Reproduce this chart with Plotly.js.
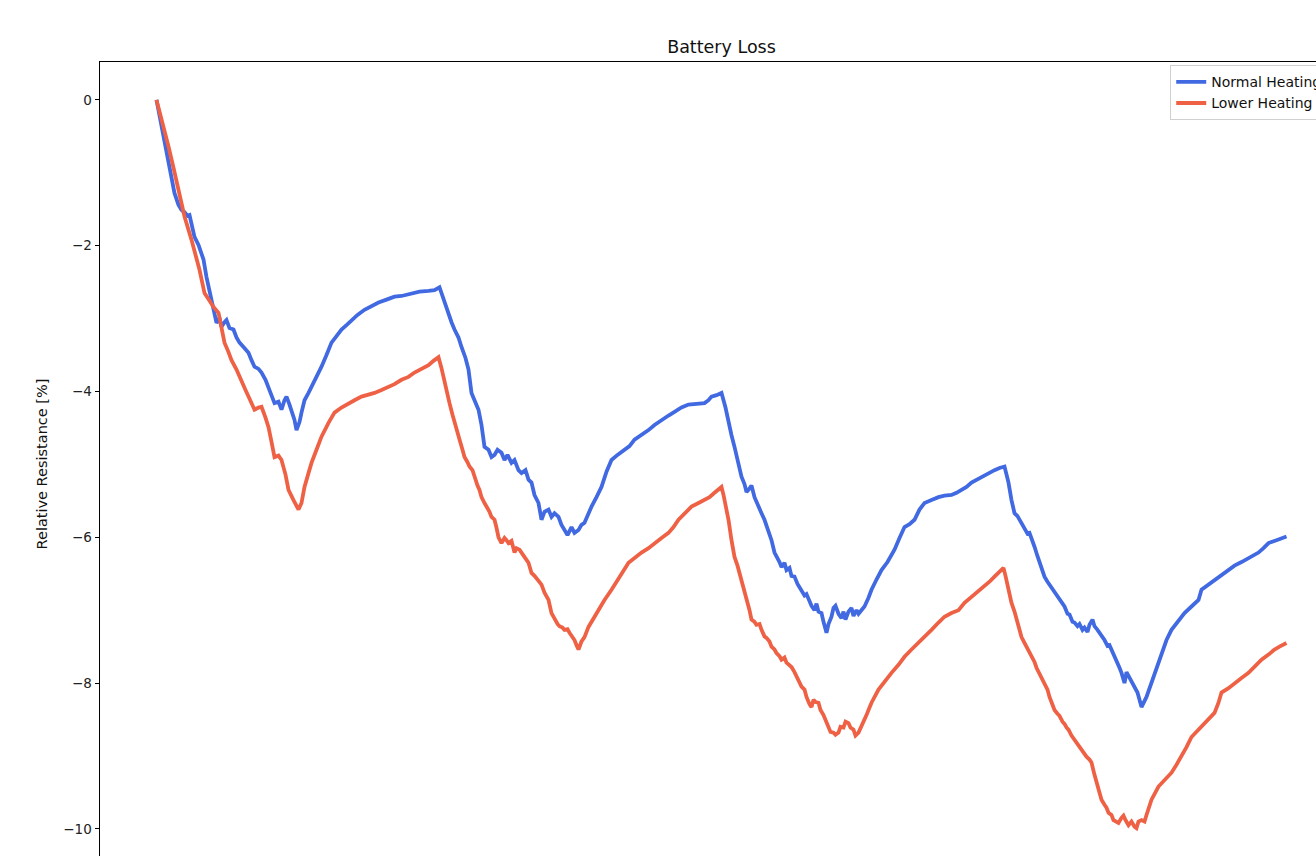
<!DOCTYPE html>
<html>
<head>
<meta charset="utf-8">
<script src="https://cdn.plot.ly/plotly-3.0.1.min.js"></script>
<style>
  html, body { margin: 0; padding: 0; overflow: hidden; background: #ffffff; }
  #chart { width: 1400px; height: 920px; }
</style>
</head>
<body>
<div id="chart"></div>
<script>
// Relative internal resistance over time for two heating strategies.
const normalT = [
  0, 3, 7, 11, 15, 18, 22, 25, 28, 31,
  33, 35, 38, 42, 47, 50, 53, 57, 60, 63,
  65, 68, 70, 73, 77, 80, 83, 87, 92, 95,
  98, 102, 105, 109, 112, 115, 118, 122, 125, 128,
  130, 133, 135, 138, 140, 143, 145, 148, 152, 155,
  160, 165, 170, 175, 180, 185, 190, 195, 201, 208,
  215, 222, 230, 238, 245, 255, 263, 272, 278, 283,
  287, 292, 295, 298, 302, 305, 309, 312, 315, 318,
  322, 325, 328, 332, 335, 338, 341, 345, 348, 351,
  355, 358, 362, 365, 369, 372, 375, 378, 382, 385,
  388, 392, 395, 398, 402, 405, 408, 411, 415, 418,
  422, 425, 428, 432, 435,
  440, 445, 450, 455, 461, 468, 473, 478, 485, 492,
  498, 505, 512, 518, 525, 532, 540, 548, 552, 555,
  560, 565, 569, 572, 575, 578,
  582, 585, 588, 590, 592, 595, 598, 602, 605, 608,
  610, 612, 615, 618, 621, 623, 625, 628, 630, 633,
  635, 638, 641, 645, 648, 650, 652, 655, 658, 660,
  662, 665, 667, 670, 672, 675, 677, 679, 682, 685,
  687, 689, 692, 695, 697, 700, 702, 705, 708,
  712, 715, 720, 725, 731, 738, 743, 748, 753, 758,
  763, 768, 775, 782, 788, 795, 800, 805, 810, 815,
  820, 825, 832, 838, 843, 848,
  850, 852, 855, 858, 861, 863, 866, 868, 871, 873,
  876, 878, 881, 883, 886, 888, 891, 893, 896, 898,
  901, 903, 906, 908, 911, 913, 916, 918, 921, 923,
  926, 928, 931, 933, 936, 938, 941, 943, 946, 948,
  951, 953, 956, 958, 961, 963, 965, 968, 970, 972,
  975, 977, 979, 981, 983, 985,
  990, 995, 1000, 1005, 1010, 1015, 1021, 1028, 1035, 1042,
  1045, 1052, 1058, 1065, 1072, 1078, 1085, 1093, 1102, 1107,
  1112, 1120, 1130
];
const normalR = [
  0, -0.21, -0.55, -0.80, -1.10, -1.28, -1.44, -1.51, -1.54, -1.59,
  -1.58, -1.71, -1.88, -1.99, -2.19, -2.43, -2.61, -2.84, -3.06, -2.99,
  -3.11, -3.05, -3.02, -3.13, -3.15, -3.26, -3.33, -3.39, -3.47, -3.57,
  -3.66, -3.69, -3.74, -3.84, -3.94, -4.05, -4.16, -4.14, -4.25, -4.12,
  -4.07, -4.18, -4.25, -4.39, -4.53, -4.42, -4.29, -4.12, -4.02, -3.94,
  -3.80, -3.66, -3.50, -3.33, -3.24, -3.15, -3.09, -3.02, -2.95, -2.88,
  -2.83, -2.78, -2.74, -2.70, -2.69, -2.65, -2.63, -2.62, -2.61, -2.57,
  -2.74, -2.92, -3.05, -3.15, -3.26, -3.39, -3.54, -3.70, -4.02, -4.12,
  -4.25, -4.46, -4.76, -4.80, -4.90, -4.87, -4.80, -4.84, -4.94, -4.87,
  -4.98, -4.94, -5.08, -5.12, -5.08, -5.21, -5.25, -5.42, -5.53, -5.76,
  -5.65, -5.62, -5.72, -5.67, -5.72, -5.83, -5.90, -5.97, -5.86, -5.94,
  -5.90, -5.83, -5.80, -5.67, -5.58,
  -5.45, -5.31, -5.10, -4.94, -4.87, -4.80, -4.75, -4.66, -4.60, -4.53,
  -4.46, -4.39, -4.33, -4.28, -4.22, -4.18, -4.17, -4.16, -4.12, -4.07,
  -4.05, -4.02, -4.22, -4.43, -4.60, -4.76,
  -4.97, -5.17, -5.27, -5.38, -5.35, -5.29, -5.45, -5.56, -5.67, -5.76,
  -5.83, -5.90, -6.04, -6.21, -6.28, -6.34, -6.41, -6.35, -6.45, -6.42,
  -6.53, -6.54, -6.64, -6.72, -6.80, -6.78, -6.86, -6.94, -7.00, -6.91,
  -7.02, -7.04, -7.16, -7.31, -7.19, -7.09, -6.97, -6.94, -7.05, -7.11,
  -7.02, -7.13, -7.02, -6.97, -7.08, -7.00, -7.05, -7.00, -6.95,
  -6.83, -6.72, -6.58, -6.45, -6.34, -6.17, -6.01, -5.86, -5.82, -5.76,
  -5.62, -5.53, -5.49, -5.45, -5.43, -5.42, -5.39, -5.35, -5.31, -5.25,
  -5.21, -5.17, -5.12, -5.08, -5.05, -5.03,
  -5.14, -5.25, -5.49, -5.67, -5.71, -5.76, -5.82, -5.86, -5.95, -5.94,
  -6.04, -6.13, -6.26, -6.34, -6.45, -6.54, -6.61, -6.65, -6.72, -6.76,
  -6.83, -6.86, -6.93, -6.95, -7.05, -7.06, -7.16, -7.17, -7.22, -7.19,
  -7.27, -7.24, -7.30, -7.20, -7.13, -7.22, -7.27, -7.32, -7.37, -7.41,
  -7.49, -7.48, -7.57, -7.61, -7.71, -7.79, -7.86, -8.00, -7.85, -7.90,
  -8.00, -8.04, -8.09, -8.13, -8.23, -8.33,
  -8.19, -8.00, -7.78, -7.59, -7.41, -7.27, -7.16, -7.04, -6.95, -6.86,
  -6.72, -6.65, -6.58, -6.52, -6.45, -6.39, -6.34, -6.28, -6.21, -6.15,
  -6.08, -6.04, -5.99
];
const lowerT = [
  0, 5, 12, 17, 22, 28, 35, 40, 43, 48,
  53, 57, 62, 65, 68, 72, 75, 80, 85, 89,
  92, 95, 98, 102, 105, 109, 112, 115, 118, 122,
  125, 129, 132, 137, 142, 145, 148, 152, 155, 160,
  165, 172, 178, 185, 192, 198, 205, 212, 218, 225,
  232, 238, 245, 252, 258, 265, 272, 277, 282,
  285, 288, 291, 293, 296, 298, 301, 303, 306, 308,
  311, 313, 316, 318, 321, 323, 325, 328, 331, 333,
  335, 338, 340, 342, 345, 348, 350, 352, 355, 358,
  360, 363, 365, 368, 370, 372, 375, 378, 380, 383,
  385, 388, 392, 395, 398, 401, 403, 406, 408, 411,
  413, 416, 418, 420, 422, 425, 428, 432,
  438, 445, 448, 455, 462, 467, 472, 478, 485, 492,
  498, 505, 512, 517, 522, 528, 535, 542, 548, 553,
  558, 562,
  565, 567, 569, 572, 575, 578, 581, 583, 586, 588,
  591, 593, 595, 598, 600, 603, 605, 608, 610, 613,
  615, 618, 620, 623, 625, 628, 630, 633, 635, 638,
  640, 643, 645, 648, 650, 653, 655, 657, 659, 662,
  664, 667, 669, 672, 674, 677, 679, 682, 684, 687,
  689, 692, 694, 697, 699, 702, 705, 707, 710, 712,
  715,
  722, 728, 735, 742, 748, 755, 762, 768, 775, 782,
  788, 795, 802, 808, 815, 822, 828, 833, 838, 843,
  847, 849, 851, 853, 855, 858, 860, 863, 865, 868,
  870, 873, 875, 878, 880, 883, 885, 888, 891, 893,
  896, 898, 901, 903, 906, 908, 910, 912, 915, 918,
  921, 923, 925, 928, 930, 933, 935, 938, 940, 943,
  945, 948, 950, 952, 955, 957, 960, 962, 965, 967,
  969, 972, 975, 978, 980, 982, 985, 988, 990, 993,
  995,
  1002, 1008, 1015, 1020, 1025, 1030, 1035, 1042, 1048, 1053,
  1058, 1062, 1065, 1072, 1078, 1085, 1092, 1098, 1105, 1112,
  1118, 1123, 1130
];
const lowerR = [
  0, -0.25, -0.64, -0.93, -1.23, -1.60, -1.92, -2.17, -2.33, -2.65,
  -2.77, -2.84, -2.92, -3.13, -3.33, -3.46, -3.57, -3.70, -3.84, -3.98,
  -4.07, -4.16, -4.25, -4.22, -4.21, -4.36, -4.49, -4.69, -4.90, -4.88,
  -4.94, -5.14, -5.35, -5.49, -5.62, -5.53, -5.31, -5.12, -4.98, -4.80,
  -4.62, -4.43, -4.29, -4.22, -4.16, -4.12, -4.07, -4.05, -4.02, -3.98,
  -3.94, -3.90, -3.84, -3.80, -3.74, -3.69, -3.64, -3.58, -3.53,
  -3.68, -3.88, -4.05, -4.16, -4.32, -4.43, -4.57, -4.66, -4.80, -4.90,
  -4.97, -5.03, -5.08, -5.17, -5.29, -5.35, -5.45, -5.53, -5.60, -5.65,
  -5.72, -5.76, -5.87, -6.00, -6.08, -6.01, -6.04, -6.08, -6.05, -6.21,
  -6.15, -6.17, -6.21, -6.26, -6.31, -6.35, -6.49, -6.53, -6.56, -6.61,
  -6.65, -6.76, -6.86, -7.04, -7.13, -7.19, -7.22, -7.24, -7.27, -7.26,
  -7.31, -7.37, -7.41, -7.48, -7.54, -7.43, -7.37, -7.23,
  -7.09, -6.95, -6.86, -6.72, -6.58, -6.46, -6.35, -6.28, -6.21, -6.15,
  -6.08, -6.01, -5.94, -5.86, -5.76, -5.67, -5.58, -5.53, -5.49, -5.45,
  -5.39, -5.35,
  -5.31, -5.42, -5.56, -5.76, -6.04, -6.27, -6.39, -6.49, -6.61, -6.72,
  -6.86, -7.00, -7.13, -7.16, -7.20, -7.19, -7.27, -7.36, -7.38, -7.43,
  -7.50, -7.54, -7.59, -7.63, -7.68, -7.65, -7.72, -7.75, -7.78, -7.85,
  -7.91, -7.98, -8.05, -8.09, -8.19, -8.29, -8.33, -8.23, -8.26, -8.27,
  -8.37, -8.44, -8.50, -8.60, -8.67, -8.68, -8.71, -8.68, -8.60, -8.61,
  -8.53, -8.55, -8.61, -8.64, -8.72, -8.68, -8.60, -8.53, -8.44, -8.37,
  -8.27,
  -8.09, -7.98, -7.86, -7.75, -7.64, -7.54, -7.45, -7.37, -7.27, -7.17,
  -7.09, -7.04, -7.00, -6.90, -6.82, -6.75, -6.68, -6.61, -6.54, -6.47,
  -6.42, -6.53, -6.65, -6.79, -6.90, -7.02, -7.13, -7.27, -7.37, -7.45,
  -7.50, -7.59, -7.64, -7.71, -7.79, -7.87, -7.93, -8.00, -8.09, -8.19,
  -8.29, -8.37, -8.42, -8.45, -8.53, -8.56, -8.61, -8.64, -8.72, -8.78,
  -8.85, -8.89, -8.92, -8.97, -9.01, -9.05, -9.09, -9.26, -9.36, -9.49,
  -9.60, -9.67, -9.71, -9.78, -9.81, -9.88, -9.90, -9.92, -9.85, -9.82,
  -9.88, -9.95, -9.90, -9.97, -9.99, -9.90, -9.88, -9.90, -9.81, -9.68,
  -9.60,
  -9.42, -9.33, -9.23, -9.12, -9.01, -8.88, -8.74, -8.64, -8.55, -8.48,
  -8.41, -8.27, -8.13, -8.07, -8.00, -7.93, -7.86, -7.78, -7.68, -7.61,
  -7.54, -7.50, -7.45
];
const yTicks = [0, -2, -4, -6, -8, -10];

const FONT = 'DejaVu Sans, sans-serif';

const traces = [
  {
    x: normalT, y: normalR, type: 'scatter', mode: 'lines',
    name: 'Normal Heating',
    line: { color: '#4169E1', width: 3.8 }
  },
  {
    x: lowerT, y: lowerR, type: 'scatter', mode: 'lines',
    name: 'Lower Heating',
    line: { color: '#EF6145', width: 3.8 }
  }
];

const layout = {
  width: 1400,
  height: 920,
  margin: { l: 100, r: 57, t: 62, b: 54 },
  paper_bgcolor: '#ffffff',
  plot_bgcolor: '#ffffff',
  font: { family: FONT, size: 13.5, color: '#222222' },
  title: {
    text: 'Battery Loss',
    font: { family: FONT, size: 17.5, color: '#111111' },
    x: 0.5, xref: 'paper', xanchor: 'center',
    y: 1 - 47 / 920, yref: 'container', yanchor: 'middle'
  },
  showlegend: true,
  legend: {
    x: 0.861, xanchor: 'left',
    y: 0.996, yanchor: 'top',
    bgcolor: '#ffffff',
    bordercolor: '#d0d0d0',
    borderwidth: 1,
    font: { family: FONT, size: 14, color: '#111111' },
    tracegroupgap: 0
  },
  xaxis: {
    range: [-56.5, 1186.5],
    showgrid: false,
    zeroline: false,
    showline: true,
    mirror: true,
    linecolor: '#000000',
    linewidth: 1,
    ticks: 'outside',
    ticklen: 4,
    tickcolor: '#000000',
    showticklabels: false
  },
  yaxis: {
    range: [-10.51, 0.52],
    tickvals: yTicks,
    showgrid: false,
    zeroline: false,
    showline: true,
    mirror: true,
    linecolor: '#000000',
    linewidth: 1,
    ticks: 'outside',
    ticklen: 4.5,
    tickcolor: '#000000',
    tickfont: { family: FONT, size: 13.5, color: '#222222' },
    title: {
      text: 'Relative Resistance [%]',
      font: { family: FONT, size: 14.5, color: '#111111' },
      standoff: 12
    },
    automargin: false
  }
};

Plotly.newPlot('chart', traces, layout, { staticPlot: true, displayModeBar: false });
</script>
</body>
</html>
